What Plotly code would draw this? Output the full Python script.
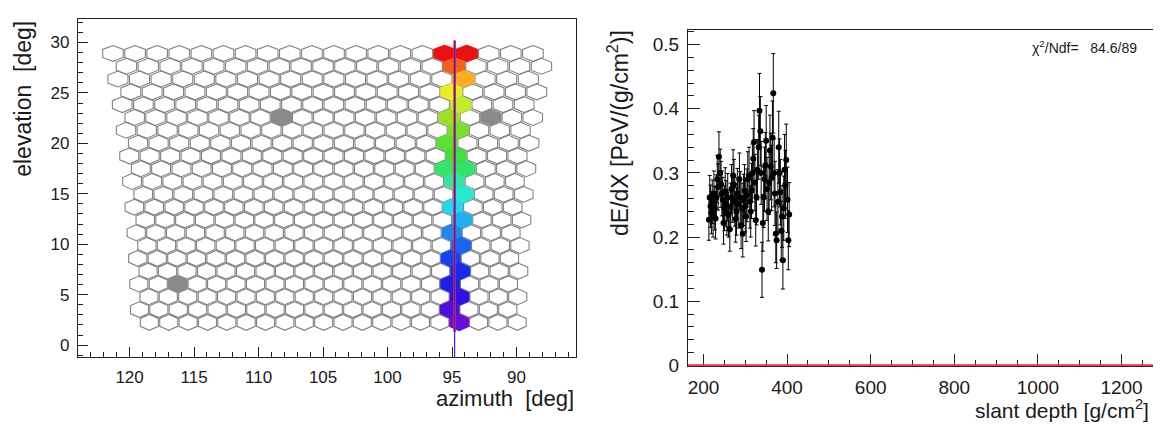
import numpy as np
import plotly.graph_objects as go
from plotly.colors import sample_colorscale

# ---------------- data: camera event display ----------------
hit_rows = [21, 21, 20, 19, 18, 17, 16, 15, 14, 13, 12, 12, 11, 10, 9, 8, 7, 6, 5, 4, 3, 2, 1, 0]
hit_cols = [15, 16, 15, 16, 15, 16, 15, 16, 15, 16, 15, 16, 16, 16, 16, 16, 16, 16, 16, 16, 16, 16, 16, 16]
hit_time = [1.00, 1.00, 0.93, 0.87, 0.80, 0.75, 0.71, 0.67, 0.64, 0.61, 0.57, 0.57, 0.53, 0.48,
            0.43, 0.38, 0.33, 0.28, 0.23, 0.18, 0.14, 0.09, 0.04, 0.00]
bad_rows = [16, 16, 3]
bad_cols = [7, 17, 2]
sdp_azimuth = 94.8

# ---------------- data: longitudinal profile ----------------
slant_depth = [213, 215, 217, 219, 221, 223, 225, 227, 229, 231,
               233, 235, 237, 240, 242, 244, 246, 248, 250, 252,
               254, 256, 258, 260, 263, 265, 267, 269, 271, 273,
               275, 277, 279, 281, 283, 286, 288, 290, 292, 294,
               296, 298, 300, 302, 304, 306, 309, 311, 313, 315,
               317, 319, 321, 323, 325, 327, 329, 332, 334, 336,
               338, 340, 342, 344, 346, 348, 350, 352, 355, 357,
               359, 361, 363, 365, 367, 369, 371, 373, 375, 378,
               380, 382, 384, 386, 388, 390, 392, 394, 396, 398,
               401, 403, 405]
dEdX = [0.227, 0.262, 0.248, 0.238, 0.255, 0.232, 0.268, 0.245, 0.229, 0.262,
        0.290, 0.278, 0.325, 0.300, 0.282, 0.268, 0.258, 0.222, 0.245, 0.271,
        0.252, 0.238, 0.262, 0.235, 0.212, 0.248, 0.275, 0.260, 0.296, 0.282,
        0.255, 0.228, 0.240, 0.268, 0.252, 0.290, 0.262, 0.218, 0.245, 0.205,
        0.258, 0.272, 0.248, 0.232, 0.265, 0.290, 0.296, 0.255, 0.240, 0.272,
        0.300, 0.322, 0.348, 0.285, 0.226, 0.262, 0.305, 0.340, 0.397, 0.365,
        0.300, 0.149, 0.222, 0.262, 0.290, 0.312, 0.350, 0.275, 0.240, 0.285,
        0.335, 0.310, 0.292, 0.355, 0.424, 0.300, 0.268, 0.205, 0.195, 0.255,
        0.340, 0.300, 0.270, 0.210, 0.232, 0.164, 0.245, 0.305, 0.282, 0.320,
        0.258, 0.195, 0.235]
dEdX_err = [0.032, 0.034, 0.033, 0.033, 0.034, 0.032, 0.035, 0.034, 0.032, 0.035,
            0.037, 0.036, 0.039, 0.037, 0.036, 0.035, 0.035, 0.033, 0.035, 0.037,
            0.036, 0.035, 0.037, 0.035, 0.034, 0.036, 0.038, 0.037, 0.040, 0.039,
            0.038, 0.036, 0.037, 0.039, 0.038, 0.041, 0.040, 0.036, 0.039, 0.036,
            0.040, 0.041, 0.040, 0.039, 0.041, 0.043, 0.044, 0.041, 0.040, 0.043,
            0.045, 0.047, 0.049, 0.044, 0.040, 0.043, 0.047, 0.050, 0.058, 0.054,
            0.049, 0.043, 0.044, 0.047, 0.050, 0.051, 0.055, 0.049, 0.046, 0.050,
            0.055, 0.052, 0.051, 0.057, 0.062, 0.053, 0.050, 0.045, 0.044, 0.050,
            0.056, 0.053, 0.051, 0.046, 0.048, 0.045, 0.050, 0.055, 0.053, 0.056,
            0.051, 0.046, 0.050]
fit_depth = [150, 1320]
fit_dEdX = [0.0, 0.0]
chi2_text = "χ<sup>2</sup>/Ndf=\u00a0\u00a0\u00a084.6/89"

# ---------------- camera geometry ----------------
N_ROWS, N_COLS = 22, 20
PIX_W = 1.5          # pixel width in azimuth at horizon (deg)
E0, DE = 2.25, 1.27  # elevation of first row, row spacing
A0 = 104.58          # camera centre azimuth
SHRINK = 0.93


def hexagon(r, c, shrink=SHRINK):
    e = E0 + DE * r
    k = PIX_W / np.cos(np.radians(e))
    s = 0.25 if r % 2 == 0 else -0.25
    az = A0 - (c - (N_COLS - 1) / 2 + s) * k
    R = DE / 1.5 * shrink
    hw = k / 2 * shrink
    xs = [az, az + hw, az + hw, az, az - hw, az - hw, az]
    ys = [e + R, e + R / 2, e - R / 2, e - R, e - R / 2, e + R / 2, e + R]
    return xs, ys


FONT = "Liberation Sans, Arial, Helvetica, sans-serif"
fig = go.Figure()

# outlines of all pixels
ox, oy = [], []
for r in range(N_ROWS):
    for c in range(N_COLS):
        xs, ys = hexagon(r, c)
        ox += xs + [None]
        oy += ys + [None]
fig.add_trace(go.Scatter(x=ox, y=oy, mode="lines", line=dict(color="#828282", width=1.1),
                         hoverinfo="skip", showlegend=False, xaxis="x", yaxis="y"))

# bad pixels (grey)
for r, c in zip(bad_rows, bad_cols):
    xs, ys = hexagon(r, c, 0.97)
    fig.add_trace(go.Scatter(x=xs, y=ys, mode="lines", fill="toself", fillcolor="#8a8a8a",
                             line=dict(color="#8a8a8a", width=1), hoverinfo="skip",
                             showlegend=False, xaxis="x", yaxis="y"))

rainbow = [[0.0, "#6a0cd8"], [0.10, "#2a10e8"], [0.20, "#1030f0"], [0.32, "#1f7ef2"],
           [0.45, "#22e8f0"], [0.53, "#30e8a0"], [0.60, "#38e040"], [0.70, "#90e020"],
           [0.77, "#d8f028"], [0.82, "#f2ec20"], [0.88, "#ffa020"], [0.94, "#f25418"],
           [1.0, "#ee1010"]]
colors = sample_colorscale(rainbow, hit_time)
for r, c, col in zip(hit_rows, hit_cols, colors):
    xs, ys = hexagon(r, c, 1.0)
    fig.add_trace(go.Scatter(x=xs, y=ys, mode="lines", fill="toself", fillcolor=col,
                             line=dict(color=col, width=0.5), hoverinfo="skip",
                             showlegend=False, xaxis="x", yaxis="y"))

# shower-detector plane lines
fig.add_trace(go.Scatter(x=[sdp_azimuth, sdp_azimuth], y=[1.3, 30.2], mode="lines",
                         line=dict(color="#ff2020", width=2.6), hoverinfo="skip",
                         showlegend=False, xaxis="x", yaxis="y"))
fig.add_trace(go.Scatter(x=[sdp_azimuth, sdp_azimuth], y=[-1.3, 30.2], mode="lines",
                         line=dict(color="#2a2af0", width=1.2), hoverinfo="skip",
                         showlegend=False, xaxis="x", yaxis="y"))

# ---------------- profile ----------------
fig.add_trace(go.Scatter(x=fit_depth, y=fit_dEdX, mode="lines",
                         line=dict(color="#f0305a", width=2.2), hoverinfo="skip",
                         showlegend=False, xaxis="x2", yaxis="y2"))
fig.add_trace(go.Scatter(x=slant_depth, y=dEdX, mode="markers",
                         marker=dict(color="black", size=6),
                         error_y=dict(type="data", array=dEdX_err, color="black",
                                      thickness=1, width=2),
                         showlegend=False, xaxis="x2", yaxis="y2"))

ax_common = dict(showline=True, linecolor="#222", linewidth=1.2, mirror=True,
                 showgrid=False, zeroline=False, ticks="inside", tickcolor="#222",
                 ticklabelstandoff=4)

fig.update_layout(
    width=1161, height=425,
    margin=dict(l=0, r=0, t=0, b=0),
    paper_bgcolor="white", plot_bgcolor="white",
    font=dict(family=FONT, color="#1a1a1a"),
    xaxis=dict(domain=[70 / 1161, 568 / 1161], range=[124.0, 85.39], anchor="y",
               tick0=0, dtick=5, ticklen=10, tickfont=dict(size=17),
               minor=dict(dtick=1, tick0=0, ticks="inside", ticklen=5, tickcolor="#222"),
               **ax_common),
    yaxis=dict(domain=[1 - 357.5 / 425, 1 - 11 / 425], range=[-1.19, 32.36], anchor="x",
               tick0=0, dtick=5, ticklen=10, tickfont=dict(size=17),
               minor=dict(dtick=1, tick0=0, ticks="inside", ticklen=5, tickcolor="#222"),
               **ax_common),
    xaxis2=dict(domain=[680 / 1161, 1152 / 1161], range=[163, 1292], anchor="y2",
                tick0=0, dtick=200, ticklen=12, tickfont=dict(size=19),
                minor=dict(dtick=50, tick0=0, ticks="inside", ticklen=6, tickcolor="#222"),
                layer="below traces", **ax_common),
    yaxis2=dict(domain=[1 - 367 / 425, 1 - 22.5 / 425], range=[-0.0015, 0.5227], anchor="x2",
                tick0=0, dtick=0.1, ticklen=12, tickfont=dict(size=19),
                minor=dict(dtick=0.02, tick0=0, ticks="inside", ticklen=6, tickcolor="#222"),
                layer="below traces", **ax_common),
)

annotations = [
    dict(text="elevation  [deg]", x=15 / 1161, y=1 - 93 / 425, textangle=-90,
         font=dict(size=23)),
    dict(text="azimuth  [deg]", x=568 / 1161, y=1 - 400 / 425, xanchor="right",
         font=dict(size=22)),
    dict(text="dE/dX [PeV/(g/cm<sup>2</sup>)]", x=610 / 1161, y=1 - 128 / 425,
         textangle=-90, font=dict(size=23)),
    dict(text="slant depth [g/cm<sup>2</sup>]", x=1143 / 1161, y=1 - 411 / 425,
         xanchor="right", font=dict(size=21)),
    dict(text=chi2_text, x=1076 / 1161, y=1 - 39.5 / 425, font=dict(size=14)),
]
for a in annotations:
    a.update(xref="paper", yref="paper", showarrow=False)
    a.setdefault("xanchor", "center")
    a.setdefault("yanchor", "middle")
fig.update_layout(annotations=annotations)

fig.write_html("out.html")
